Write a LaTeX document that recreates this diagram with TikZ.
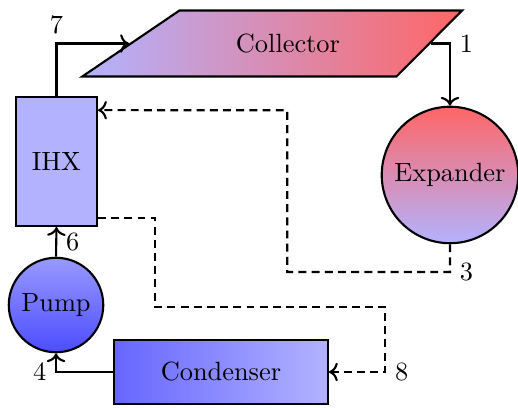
\documentclass[tikz,border=0pt]{standalone}
\usepackage{tikz}
\usetikzlibrary{arrows.meta,positioning,calc,shapes}

\begin{document}
\begin{tikzpicture}[thick,
  flow/.style={->},
  bypass/.style={->,dash pattern=on 3pt off 2pt},
  unit/.style={draw,minimum width=#1},
  ]
  \useasboundingbox (0,0) rectangle (6.907,-5.427);

  \node[draw,trapezium,trapezium left angle=34,trapezium right angle=135,
    trapezium stretches=true,minimum width=5.1cm,minimum height=0.88cm,
    left color=blue!30,right color=red!60] (col) at (3.84,-0.58) {Collector};
  \node[draw,circle,minimum size=1.82cm,inner sep=0pt,
    top color=red!60,bottom color=blue!30] (exp) at (6.0,-2.333) {Expander};
  \node[unit=1.08cm,minimum height=1.72cm,fill=blue!30] (ihx) at (0.753,-2.153) {IHX};
  \node[draw,circle,minimum size=1.26cm,inner sep=0pt,
    top color=blue!40,bottom color=blue!70] (pump) at (0.747,-4.067) {Pump};
  \node[unit=2.85cm,minimum height=0.855cm,
    left color=blue!60,right color=blue!30] (cond) at (2.947,-4.96) {Condenser};

  \draw[flow] (ihx.north) |- node[pos=0.5,above] {7} (col.west);
  \draw[flow] (col.east) -| node[pos=0.5,right] {1} (exp.north);
  \draw[bypass] (exp.south) -- ++(0,-0.37) node[right] {3}
    -| (3.83,-1.47) -- ([yshift=-0.19cm]ihx.north east);
  \draw[flow] (pump.north) -- node[right] {6} (ihx.south);
  \draw[bypass] ([yshift=0.12cm]ihx.south east) -| (2.07,-4.09)
    -| ([xshift=0.75cm]cond.east) node[right] {8} -- (cond.east);
  \draw[flow] (cond.west) -| node[pos=0.5,left] {4} (pump.south);
\end{tikzpicture}
\end{document}
